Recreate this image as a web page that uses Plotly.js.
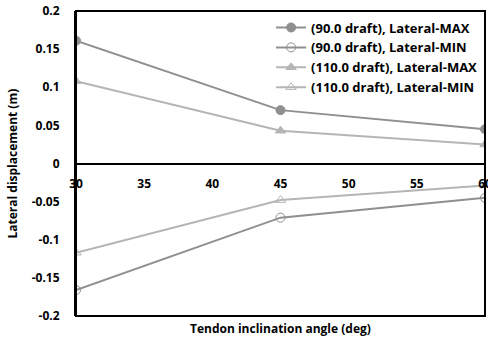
<!DOCTYPE html>
<html><head><meta charset="utf-8">
<script src="https://cdn.plot.ly/plotly-3.0.1.min.js"></script>
<style>html,body{margin:0;padding:0;background:#fff}#c{width:488px;height:342px}</style>
</head><body><div id="c"></div>
<script>
const angles = [30, 45, 60];
const max90 = [0.161, 0.070, 0.045];
const min90 = [-0.166, -0.071, -0.045];
const max110 = [0.108, 0.043, 0.025];
const min110 = [-0.117, -0.048, -0.029];
const seriesNames = ['(90.0 draft), Lateral-MAX', '(90.0 draft), Lateral-MIN', '(110.0 draft), Lateral-MAX', '(110.0 draft), Lateral-MIN'];
const xTickVals = [30, 35, 40, 45, 50, 55, 60];
const yTickVals = [0.2, 0.15, 0.1, 0.05, 0, -0.05, -0.1, -0.15, -0.2];
const yTickText = ['0.2', '0.15', '0.1', '0.05', '0', '-0.05', '-0.1', '-0.15', '-0.2'];
const xTitle = 'Tendon inclination angle (deg)';
const yTitle = 'Lateral displacement (m)';

const dark = '#8f8f8f', light = '#b5b5b5';
const mk = (y, name, color, symbol) => ({
  x: angles, y: y, name: name, type: 'scatter', mode: 'lines+markers',
  line: {color: color, width: 2},
  marker: {color: color, size: 9, symbol: symbol, line: {color: color, width: 1}}
});
const data = [
  mk(max90, seriesNames[0], dark, 'circle'),
  mk(min90, seriesNames[1], dark, 'circle-open'),
  mk(max110, seriesNames[2], light, 'triangle-up'),
  mk(min110, seriesNames[3], light, 'triangle-up-open')
];
const fam = '"Open Sans", "DejaVu Sans", sans-serif';
const font = {family: fam, size: 12, color: '#000', weight: 700};
const layout = {
  width: 488, height: 342,
  margin: {l: 76, r: 3, t: 11, b: 26},
  paper_bgcolor: '#fff', plot_bgcolor: '#fff',
  showlegend: true,
  legend: {x: 0.477, xanchor: 'left', y: 0.995, yanchor: 'top', bgcolor: 'rgba(0,0,0,0)',
    font: {family: fam, size: 13, color: '#000', weight: 700},
    tracegroupgap: 0, itemwidth: 30},
  xaxis: {range: [30, 60], tickvals: xTickVals, showgrid: false, zeroline: false,
    anchor: 'free', position: 0.5, showline: true, linecolor: '#000', linewidth: 2,
    ticks: '', ticklabelstandoff: 9, ticklabeloverflow: 'allow', tickfont: font, fixedrange: true},
  yaxis: {range: [-0.2, 0.2], tickvals: yTickVals, ticktext: yTickText, showgrid: false,
    zeroline: false, showline: true, linecolor: '#000', linewidth: 2, ticks: '',
    ticklabelstandoff: 12, tickfont: font, fixedrange: true},
  shapes: [{type: 'rect', xref: 'paper', yref: 'paper', x0: 0, x1: 1, y0: 0, y1: 1,
    line: {color: '#000', width: 2}}],
  annotations: [
    {text: xTitle, xref: 'paper', yref: 'paper', x: 0.5, y: 0, yshift: -12, yanchor: 'middle',
      showarrow: false, font: {family: fam, size: 12, color: '#000', weight: 700}},
    {text: yTitle, xref: 'paper', yref: 'paper', x: 0, xshift: -64, xanchor: 'center', y: 0.5, yanchor: 'middle', textangle: -90,
      showarrow: false, font: {family: fam, size: 12, color: '#000', weight: 700}}
  ]
};
Plotly.newPlot('c', data, layout, {displayModeBar: false, staticPlot: true});
</script></body></html>
